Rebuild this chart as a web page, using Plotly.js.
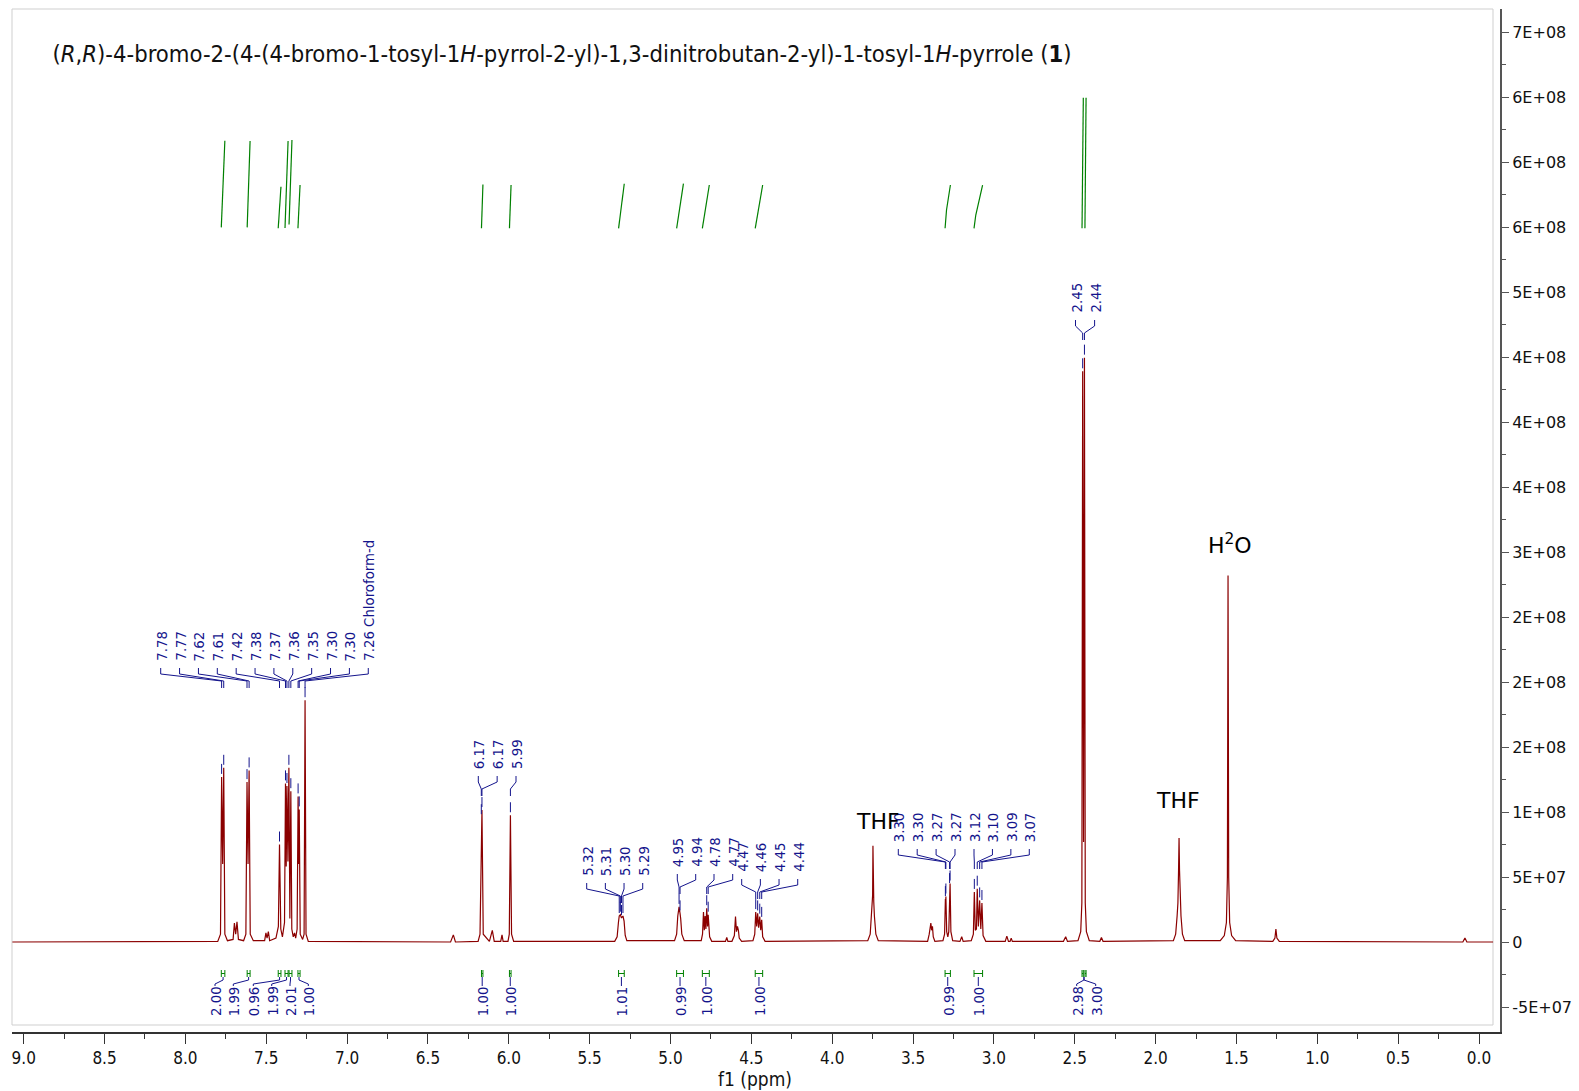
<!DOCTYPE html>
<html><head><meta charset="utf-8">
<script src="https://cdn.plot.ly/plotly-3.0.1.min.js"></script>
<style>html,body{margin:0;padding:0;background:#fff;}#chart{width:1579px;height:1091px;}</style>
</head><body><div id="chart"></div>
<script>
// ---------------- DATA ----------------
// spectrum, chemical shift (ppm) and intensity
const aromaticPpm = [9.07,7.80,7.783,7.776,7.7695,7.763,7.756,7.74,7.705,7.697,7.689,7.681,7.672,7.64,7.626,7.619,7.6125,7.606,7.599,7.58,7.51,7.502,7.495,7.487,7.479,7.44,7.425,7.418,7.41,7.40,7.387,7.381,7.3765,7.372,7.366,7.360,7.354,7.348,7.342,7.333,7.325,7.318,7.309,7.303,7.2995,7.296,7.290,7.275,7.266,7.260,7.254,7.24];
const aromaticInt = [0,0.05e7,0.6e7,12.7e7,6.0e7,13.4e7,0.6e7,0.1e7,0.2e7,1.45e7,0.6e7,1.55e7,0.2e7,0.1e7,0.6e7,12.3e7,6.0e7,13.2e7,0.6e7,0.1e7,0.1e7,0.7e7,0.3e7,0.8e7,0.1e7,0.3e7,1.2e7,7.5e7,1.0e7,0.4e7,1.5e7,12.2e7,5.8e7,12.0e7,6.2e7,13.4e7,1.8e7,11.6e7,1.0e7,0.4e7,0.7e7,0.3e7,1.0e7,11.2e7,6.0e7,10.2e7,0.6e7,0.2e7,0.6e7,18.6e7,0.6e7,0.05e7];
const pyrrolePpm = [6.36,6.343,6.33,6.19,6.178,6.170,6.168,6.166,6.158,6.12,6.102,6.09,6.05,6.042,6.035,6.005,5.997,5.990,5.983,5.97];
const pyrroleInt = [0,0.55e7,0,0.05e7,0.6e7,9.6e7,8.5e7,10.15e7,0.6e7,0.05e7,0.9e7,0.05e7,0.05e7,0.55e7,0.05e7,0.05e7,0.6e7,9.75e7,0.6e7,0.05e7];
const methinePpm = [5.345,5.33,5.322,5.317,5.310,5.303,5.294,5.287,5.28,5.27,
  4.975,4.962,4.955,4.950,4.947,4.941,4.937,4.93,4.915,
  4.81,4.802,4.796,4.791,4.786,4.781,4.776,4.771,4.767,4.758,4.745,
  4.66,4.652,4.645,
  4.62,4.605,4.598,4.592,4.586,4.58,4.575,4.56,
  4.49,4.479,4.473,4.467,4.461,4.455,4.448,4.442,4.436,4.43,4.415];
const methineInt = [0.05e7,0.4e7,1.5e7,2.0e7,2.1e7,1.85e7,2.0e7,1.6e7,0.5e7,0.1e7,
  0.1e7,0.6e7,2.0e7,2.4e7,2.7e7,2.2e7,1.8e7,0.6e7,0.1e7,
  0.1e7,0.6e7,2.3e7,0.9e7,2.0e7,1.0e7,2.6e7,1.2e7,2.1e7,0.4e7,0.05e7,
  0.05e7,0.35e7,0.05e7,
  0.05e7,0.5e7,1.95e7,0.8e7,1.2e7,0.9e7,0.3e7,0.05e7,
  0.1e7,0.6e7,2.3e7,1.2e7,2.2e7,1.1e7,1.95e7,0.9e7,1.7e7,0.4e7,0.05e7];
const midPpm = [3.78,3.765,3.757,3.753,3.750,3.748,3.746,3.743,3.739,3.73,3.715,
  3.41,3.400,3.396,3.390,3.385,3.380,3.375,3.365,
  3.315,3.305,3.300,3.2985,3.297,3.292,3.285,3.279,3.274,3.2725,3.271,3.266,3.255,
  3.21,3.199,3.19,
  3.14,3.127,3.121,3.115,3.108,3.103,3.096,3.088,3.081,3.074,3.067,3.05,
  2.93,2.92,2.91,2.90,2.893,2.886];
const midInt = [0.1e7,0.6e7,2.0e7,3.1e7,3.6e7,7.4e7,3.6e7,3.1e7,2.0e7,0.6e7,0.1e7,
  0.05e7,0.6e7,1.0e7,1.45e7,0.9e7,1.2e7,0.4e7,0.05e7,
  0.1e7,0.6e7,3.3e7,2.9e7,3.5e7,0.8e7,0.4e7,0.8e7,4.3e7,4.0e7,4.5e7,0.8e7,0.1e7,
  0.05e7,0.4e7,0.05e7,
  0.1e7,0.6e7,3.85e7,0.9e7,1.0e7,4.1e7,1.2e7,3.2e7,1.0e7,3.0e7,0.5e7,0.05e7,
  0.05e7,0.45e7,0.05e7,0.05e7,0.3e7,0.05e7];
const aliphaticPpm = [2.57,2.556,2.545,
  2.48,2.463,2.456,2.451,2.4455,2.440,2.435,2.428,2.41,
  2.345,2.335,2.325,
  1.89,1.876,1.867,1.862,1.858,1.855,1.852,1.848,1.843,1.834,1.82,
  1.60,1.575,1.562,1.556,1.552,1.548,1.542,1.53,1.505,
  1.275,1.262,1.256,1.250,1.235,
  0.10,0.087,0.075,-0.087];
const aliphaticInt = [0.05e7,0.4e7,0.05e7,
  0.1e7,0.8e7,3.0e7,43.9e7,7.7e7,44.95e7,3.0e7,0.8e7,0.1e7,
  0.05e7,0.35e7,0.05e7,
  0.1e7,0.6e7,2.0e7,3.0e7,5.5e7,8.0e7,5.5e7,3.0e7,2.0e7,0.6e7,0.1e7,
  0.1e7,0.5e7,1.5e7,5.0e7,28.2e7,5.0e7,1.5e7,0.5e7,0.1e7,
  0.05e7,0.3e7,1.0e7,0.3e7,0.05e7,
  0,0.3e7,0,0];

// peak picking labels and the peaks they point to
const pickA = ["7.78","7.77","7.62","7.61","7.42","7.38","7.37","7.36","7.35","7.30","7.30","7.26 Chloroform-d"];
const pickAPpm = [7.776,7.763,7.619,7.606,7.418,7.381,7.372,7.360,7.348,7.303,7.296,7.260];
const pickB = ["6.17","6.17","5.99"];
const pickBPpm = [6.170,6.166,5.990];
const pickC = ["5.32","5.31","5.30","5.29"];
const pickCPpm = [5.317,5.310,5.303,5.294];
const pickD = ["4.95","4.94"];
const pickDPpm = [4.947,4.941];
const pickE = ["4.78","4.77"];
const pickEPpm = [4.776,4.767];
const pickF = ["4.47","4.46","4.45","4.44"];
const pickFPpm = [4.473,4.461,4.448,4.436];
const pickG = ["3.30","3.30","3.27","3.27"];
const pickGPpm = [3.300,3.297,3.274,3.271];
const pickH = ["3.12","3.10","3.09","3.07"];
const pickHPpm = [3.121,3.103,3.088,3.074];
const pickI = ["2.45","2.44"];
const pickIPpm = [2.451,2.440];

// integrals: region (ppm), drawn integral curve (low/mid/high level) and values
const integralStart = [7.778,7.618,7.426,7.384,7.359,7.304,6.169,5.996,5.321,4.962,4.803,4.476,3.302,3.123,2.455,2.437];
const integralEnd   = [7.756,7.600,7.409,7.365,7.341,7.291,6.160,5.986,5.286,4.920,4.760,4.430,3.269,3.070,2.447,2.430];
const integralMidPpm   = [null,null,null,null,null,null,null,null,null,null,null,null,3.293,3.112,null,null];
const integralMidLevel = [null,null,null,null,null,null,null,null,null,null,null,null,5.631e8,5.592e8,null,null];
const integralLow   = [5.497e8,5.497e8,5.49e8,5.493e8,5.52e8,5.49e8,5.49e8,5.49e8,5.49e8,5.49e8,5.49e8,5.49e8,5.49e8,5.49e8,5.49e8,5.49e8];
const integralHigh  = [6.164e8,6.162e8,5.81e8,6.162e8,6.17e8,5.823e8,5.827e8,5.823e8,5.833e8,5.833e8,5.823e8,5.823e8,5.823e8,5.823e8,6.495e8,6.495e8];
const integralText  = ["2.00","1.99","0.96","1.99","2.01","1.00","1.00","1.00","1.01","0.99","1.00","1.00","0.99","1.00","2.98","3.00"];

// axis tick labels
const yTickVals = [-5e7,0,5e7,1e8,1.5e8,2e8,2.5e8,3e8,3.5e8,4e8,4.5e8,5e8,5.5e8,6e8,6.5e8,7e8];
const yTickText = ["-5E+07","0","5E+07","1E+08","2E+08","2E+08","2E+08","3E+08","4E+08","4E+08","4E+08","5E+08","6E+08","6E+08","6E+08","7E+08"];

// ---------------- LAYOUT / STYLE ----------------
const W = 1579, H = 1091;
const PL = 12, PR = 1500, PT = 9, PB = 1032;       // plot area (px)
const X0PX = 1479, PXPPM = 161.7;                   // 0 ppm pixel, px per ppm
const Y0PX = 942, PXUNIT = 65 / 5e7;                // zero intensity pixel, px per unit
const xp = px => (X0PX - px) / PXPPM;
const yp = py => (Y0PX - py) / PXUNIT;
const pxOf = ppm => X0PX - ppm * PXPPM;
const pyOf = v => Y0PX - v * PXUNIT;

const RED = '#8B0000', BLUE = '#14148c', GREEN = '#008000';
const LBLFONT = {family: 'DejaVu Sans Condensed, DejaVu Sans', size: 14.8, color: BLUE};

const specPpm = [].concat(aromaticPpm, pyrrolePpm, methinePpm, midPpm, aliphaticPpm);
const specInt = [].concat(aromaticInt, pyrroleInt, methineInt, midInt, aliphaticInt);
function topAt(ppm) {
  let best = 0;
  for (let i = 0; i < specPpm.length; i++) if (Math.abs(specPpm[i] - ppm) < 1e-6) best = specInt[i];
  return best;
}

const shapes = [];
const annotations = [];

// light frame
shapes.push({type: 'rect', xref: 'paper', yref: 'paper', x0: 0, x1: (1493 - PL) / (PR - PL),
  y0: (PB - 1025) / (PB - PT), y1: 1, line: {color: '#cfcfcf', width: 1}, layer: 'below'});

function path(pts) {
  return 'M' + pts.map(p => xp(p[0]) + ',' + yp(p[1])).join('L');
}
function lineShape(pts, color, w) {
  shapes.push({type: 'path', xref: 'x', yref: 'y', path: path(pts), line: {color: color, width: w || 1}});
}

// peak-picking groups: labels, targets, first label x (px), step (px), text bottom (px)
const pickGroups = [
  [pickA, pickAPpm, 160.7, 18.87, 662],
  [pickB, pickBPpm, 478.3, 18.85, 770],
  [pickC, pickCPpm, 586.7, 18.67, 877],
  [pickD, pickDPpm, 677.3, 18.4, 868],
  [pickE, pickEPpm, 714.0, 18.7, 868],
  [pickF, pickFPpm, 741.7, 18.67, 873],
  [pickG, pickGPpm, 898.3, 18.9, 843],
  [pickH, pickHPpm, 974.0, 18.43, 843],
  [pickI, pickIPpm, 1075.5, 19.1, 314]
];
pickGroups.forEach(g => {
  const [labels, ppms, x0, step, bottom] = g;
  labels.forEach((t, i) => {
    const lx = x0 + i * step;
    const tx = pxOf(ppms[i]);
    annotations.push({x: xp(lx), y: yp(bottom), xref: 'x', yref: 'y', text: t, showarrow: false,
      textangle: -90, xanchor: 'center', yanchor: 'bottom', font: LBLFONT, borderpad: 0});
    lineShape([[lx, bottom + 6], [lx, bottom + 12], [tx, bottom + 19], [tx, bottom + 26]], BLUE);
    const top = pyOf(topAt(ppms[i]));
    lineShape([[tx, top - 13], [tx, top - 3]], BLUE);
  });
});

// integral curves (top), marks and values (bottom)
const intLabelPx = [215, 233.3, 253.3, 271.7, 290, 308.3];
integralText.forEach((t, i) => {
  const a = integralStart[i], b = integralEnd[i];
  const xs = [a], ys = [integralLow[i]];
  if (integralMidPpm[i] !== null) { xs.push(integralMidPpm[i]); ys.push(integralMidLevel[i]); }
  xs.push(b); ys.push(integralHigh[i]);
  shapes.push({type: 'path', xref: 'x', yref: 'y',
    path: 'M' + xs.map((x, k) => x + ',' + ys[k]).join('L'),
    line: {color: GREEN, width: 1.2}});
  const xa = pxOf(a), xb = pxOf(b), xc = (xa + xb) / 2;
  lineShape([[xa, 970], [xa, 977]], GREEN);
  lineShape([[xb, 970], [xb, 977]], GREEN);
  lineShape([[xa, 973.5], [xb, 973.5]], GREEN);
  let lx = xc;
  if (i < 6) lx = intLabelPx[i];
  if (i === 14) lx = 1076.7;
  if (i === 15) lx = 1095.7;
  const mc = (i >= 14) ? pxOf(2.443) : xc;
  lineShape([[mc, 977], [mc, 980], [lx, 984], [lx, 986]], BLUE);
  annotations.push({x: xp(lx), y: yp(985), xref: 'x', yref: 'y', text: t, showarrow: false,
    textangle: -90, xanchor: 'center', yanchor: 'top', font: LBLFONT, borderpad: 0});
});

// solvent labels
const BIG = {family: 'DejaVu Sans', size: 22, color: '#000'};
annotations.push({x: xp(878), y: yp(821), xref: 'x', yref: 'y', text: 'THF', showarrow: false, font: BIG, xanchor: 'center', yanchor: 'middle'});
annotations.push({x: xp(1178), y: yp(800), xref: 'x', yref: 'y', text: 'THF', showarrow: false, font: BIG, xanchor: 'center', yanchor: 'middle'});
annotations.push({x: xp(1229.5), y: yp(544), xref: 'x', yref: 'y', text: 'H<sup>2</sup>O', showarrow: false, font: BIG, xanchor: 'center', yanchor: 'middle'});

// x axis title
annotations.push({x: (755 - PL) / (PR - PL), y: 1 - (1079 - PT) / (PB - PT), xref: 'paper', yref: 'paper',
  text: 'f1 (ppm)', showarrow: false, xanchor: 'center', yanchor: 'middle',
  font: {family: 'DejaVu Sans Condensed, DejaVu Sans', size: 19, color: '#111'}});

const trace = {x: specPpm, y: specInt, type: 'scatter', mode: 'lines',
  line: {color: RED, width: 1.2}, hoverinfo: 'skip', showlegend: false};

const layout = {
  width: W, height: H,
  margin: {l: PL, r: W - PR, t: PT, b: H - PB, pad: 0},
  paper_bgcolor: '#fff', plot_bgcolor: '#fff',
  showlegend: false,
  title: {text: '(<i>R</i>,<i>R</i>)-4-bromo-2-(4-(4-bromo-1-tosyl-1<i>H</i>-pyrrol-2-yl)-1,3-dinitrobutan-2-yl)-1-tosyl-1<i>H</i>-pyrrole (<b>1</b>)',
    x: 43 / W, xanchor: 'left', xref: 'paper', y: 1 - 53.5 / H, yanchor: 'middle', yref: 'container',
    font: {family: 'DejaVu Sans Condensed, DejaVu Sans', size: 23.6, color: '#111'}},
  xaxis: {range: [xp(PL), xp(PR)], tickmode: 'linear', tick0: 0, dtick: 0.5, tickformat: '.1f',
    ticks: 'outside', ticklen: 10, tickwidth: 1, tickcolor: '#333',
    minor: {ticks: 'outside', dtick: 0.25, tick0: 0, ticklen: 5, tickcolor: '#333', tickwidth: 1, showgrid: false},
    showline: true, linecolor: '#333', linewidth: 2, showgrid: false, zeroline: false,
    tickfont: {family: 'DejaVu Sans Condensed, DejaVu Sans', size: 17, color: '#111'}, fixedrange: true},
  yaxis: {range: [yp(PB), yp(PT)], side: 'right', tickmode: 'array', tickvals: yTickVals, ticktext: yTickText,
    ticks: 'outside', ticklen: 7, tickwidth: 1, tickcolor: '#555',
    minor: {ticks: 'outside', dtick: 2.5e7, tick0: 0, ticklen: 4, tickcolor: '#555', tickwidth: 1, showgrid: false},
    showline: true, linecolor: '#555', linewidth: 2, showgrid: false, zeroline: false,
    tickfont: {family: 'DejaVu Sans', size: 16, color: '#111'}, fixedrange: true},
  shapes: shapes,
  annotations: annotations
};
Plotly.newPlot('chart', [trace], layout, {staticPlot: true, displayModeBar: false});
</script>
</body></html>
